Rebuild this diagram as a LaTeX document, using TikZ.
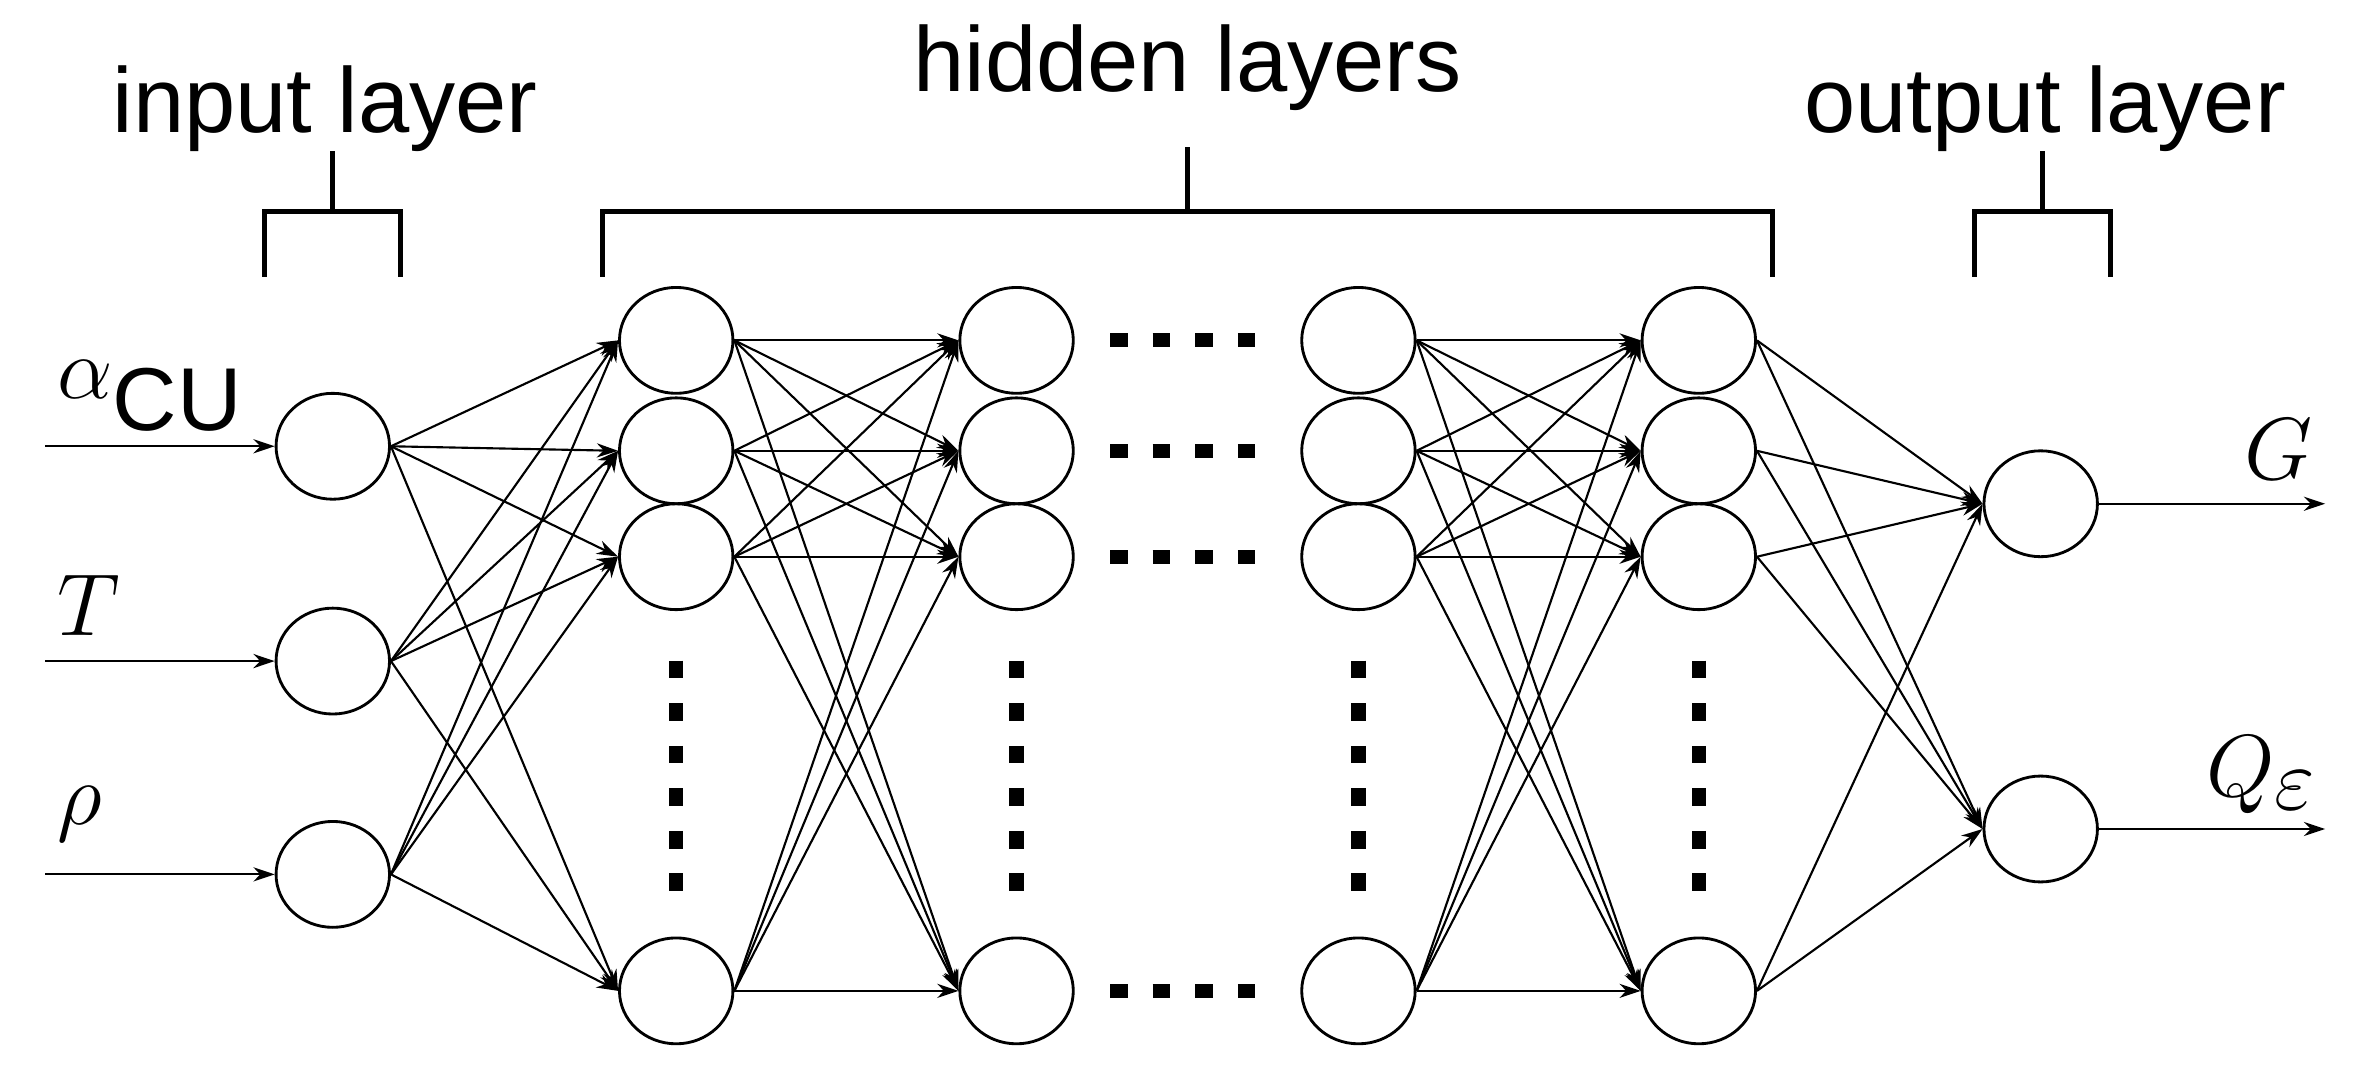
\documentclass[tikz,border=0pt]{standalone}
\usepackage{fontspec}
\setmainfont{Liberation Sans}
\usetikzlibrary{arrows.meta,shapes.geometric}
\begin{document}
\begin{tikzpicture}[x=0.015cm,y=-0.015cm,
  neu/.style={draw,line width=0.8pt,ellipse,minimum width=75*0.015cm,minimum height=70*0.015cm,inner sep=0pt},
  con/.style={line width=0.6pt,-{Stealth[length=6pt,width=4pt]}},
  dots/.style={line width=4pt,dash pattern=on 5pt off 7pt},
  brk/.style={line width=1.4pt},
  lbl/.style={font=\fontsize{26}{30}\selectfont}]
\useasboundingbox (0,0) rectangle (1570,712);
\foreach \n/\y in {1/295,2/437,3/578} \node[neu] (i\n) at (220,\y) {};
\foreach \L/\x in {a/447,b/672,c/898,d/1123}
  \foreach \n/\y in {1/225,2/298,3/368,4/655} \node[neu] (\L\n) at (\x,\y) {};
\node[neu] (o1) at (1349,333) {};
\node[neu] (o2) at (1349,548) {};
\foreach \i in {1,2,3} \foreach \j in {1,2,3,4} \draw[con] (i\i.east) -- (a\j.west);
\foreach \i in {1,2,3,4} \foreach \j in {1,2,3,4} {
  \draw[con] (a\i.east) -- (b\j.west);
  \draw[con] (c\i.east) -- (d\j.west);}
\foreach \i in {1,2,3,4} \foreach \j in {1,2} \draw[con] (d\i.east) -- (o\j.west);
\foreach \n in {1,2,3,4} \draw[dots] ([xshift=10]b\n.east) -- ([xshift=-8]c\n.west);
\foreach \L in {a,b,c,d} \draw[dots] ([yshift=-14]\L3.south) -- ([yshift=10]\L4.north);
\coordinate (s1) at (30,295); \coordinate (s2) at (30,437); \coordinate (s3) at (30,578);
\foreach \n in {1,2,3} \draw[con] (s\n) -- (i\n.west);
\coordinate (e1) at (1537,333); \coordinate (e2) at (1537,548);
\draw[con] (o1.east) -- (e1); \draw[con] (o2.east) -- (e2);
\node[lbl,anchor=west] at (30,262) {\fontsize{36}{40}\selectfont$\alpha_{\mathrm{CU}}$};
\node[lbl,anchor=west] at (30,400) {\fontsize{36}{40}\selectfont$T$};
\node[lbl,anchor=west] at (30,538) {\fontsize{36}{40}\selectfont$\rho$};
\node[lbl,anchor=east] at (1537,297) {\fontsize{36}{40}\selectfont$G$};
\node[lbl,anchor=east] at (1540,512) {\fontsize{36}{40}\selectfont$Q_{\varepsilon}$};
\draw[brk] (175,183) -- (175,140) -- (265,140) -- (265,183) (220,140) -- (220,100);
\draw[brk] (398,183) -- (398,140) -- (1172,140) -- (1172,183) (785,140) -- (785,97);
\draw[brk] (1305,183) -- (1305,140) -- (1395,140) -- (1395,183) (1350,140) -- (1350,100);
\node[lbl] (t1) at (215,72) {input layer};
\node[lbl] (t2) at (785,45) {hidden layers};
\node[lbl] (t3) at (1352,72) {output layer};
\end{tikzpicture}
\end{document}
